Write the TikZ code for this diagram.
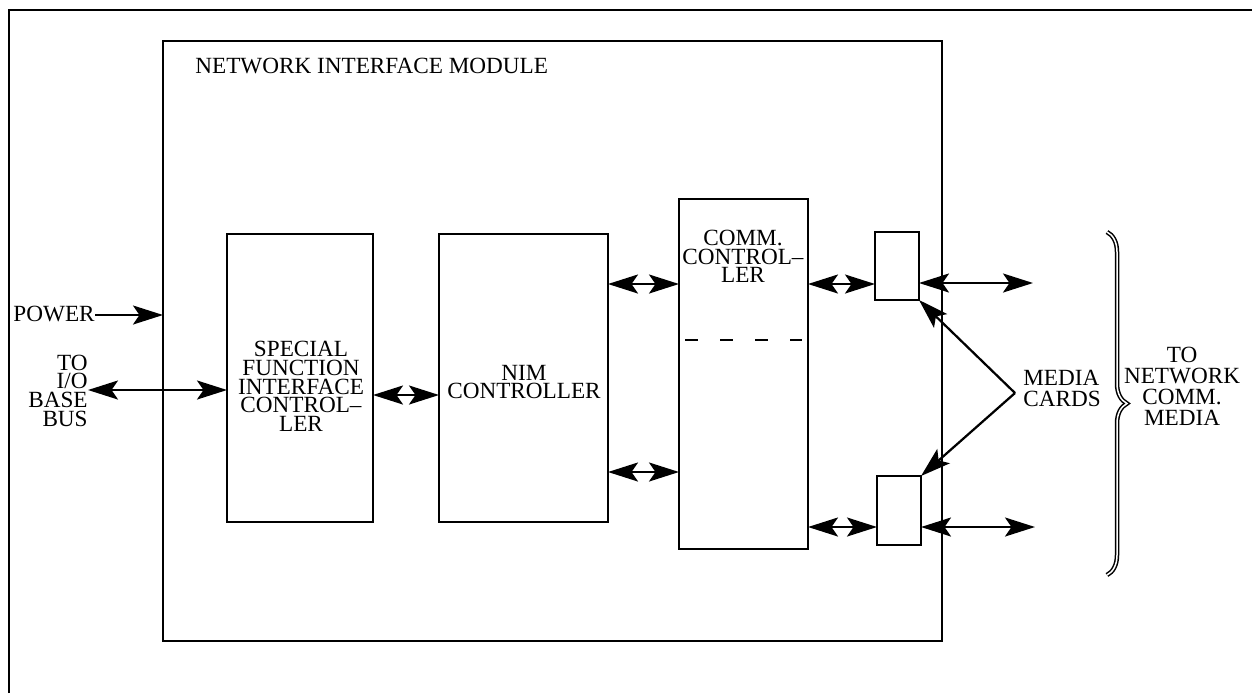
\documentclass[tikz,border=0pt]{standalone}
\usepackage{fontspec}
\setmainfont{Liberation Serif}
\usetikzlibrary{arrows.meta,decorations.pathreplacing}
\begin{document}
\begin{tikzpicture}[x=0.2mm,y=-0.2mm,
        >={Stealth[length=6mm,width=3.8mm,inset=1.3mm]},
        blk/.style={draw,line width=0.45mm,inner sep=0pt,outer sep=0pt},
        txt/.style={align=center,inner sep=0pt,font=\fontsize{13.2}{10.6}\selectfont},
        txtw/.style={txt,font=\fontsize{13.2}{12}\selectfont},
        arr/.style={line width=0.45mm,->},
        darr/.style={line width=0.45mm,<->}]
                \useasboundingbox (0,0) rectangle (1252,693);
                \draw[line width=0.45mm] (9,693) -- (9,10) -- (1252,10);

                \node[blk,minimum width=155.8mm,minimum height=120mm] (nim) at (552.5,341) {};
                \node[txt,anchor=west] (nimtitle) at (195,65.5) {NETWORK INTERFACE MODULE};

                \node[blk,minimum width=29.2mm,minimum height=57.6mm] (sfic) at (300,378) {};
                \node[blk,minimum width=33.8mm,minimum height=57.6mm] (nimc) at (523.5,378) {};
                \node[blk,minimum width=25.8mm,minimum height=70mm] (comm) at (743.5,374) {};
                \node[blk,minimum width=8.8mm,minimum height=13.6mm] (cardt) at (897,266) {};
                \node[blk,minimum width=8.8mm,minimum height=13.8mm] (cardb) at (899,510.5) {};

                \node[txt] (sficlbl) at (301,386.5) {SPECIAL\\FUNCTION\\INTERFACE\\CONTROL–\\LER};
                \node[txt] (nimclbl) at (524,382) {NIM\\CONTROLLER};
                \node[txt] (commlbl) at (743,256.5) {COMM.\\CONTROL–\\LER};
                \draw[line width=0.45mm,dash pattern=on 2.6mm off 4.4mm] (685,340) -- (802,340);

                \node[txt,anchor=east] (power) at (95,314) {POWER};
                \node[txt,anchor=east,align=right] (iobus) at (88,390.5) {TO\\I/O\\BASE\\BUS};
                \node[txtw,anchor=west,align=left] (media) at (1023,388) {MEDIA\\CARDS};
                \node[txtw] (netmedia) at (1182,386) {TO\\NETWORK\\COMM.\\MEDIA};

                \coordinate (ypw) at (0,315);
                \coordinate (yio) at (0,390);
                \coordinate (ysn) at (0,395);
                \coordinate (yup) at (0,284);
                \coordinate (ylo) at (0,472);
                \coordinate (ybt) at (0,527);
                \coordinate (endt) at (1033,283);
                \coordinate (endb) at (1035,527);
                \coordinate (mc) at ([xshift=-1.6mm,yshift=-1mm]media.west);

                \draw[arr] (power.east |- ypw) -- (nim.west |- ypw);
                \draw[darr] (iobus.east |- yio) -- (sfic.west |- yio);
                \draw[darr] (sfic.east |- ysn) -- (nimc.west |- ysn);
                \draw[darr] (nimc.east |- yup) -- (comm.west |- yup);
                \draw[darr] (nimc.east |- ylo) -- (comm.west |- ylo);
                \draw[darr] (comm.east |- yup) -- (cardt.west |- yup);
                \draw[darr] (comm.east |- ybt) -- (cardb.west |- ybt);
                \draw[darr] (cardt.east |- endt) -- (endt);
                \draw[darr] (cardb.east |- endb) -- (endb);

                \draw[arr] (mc) -- (cardt.south east);
                \draw[arr] (mc) -- (cardb.north east);

                \draw[line width=0.3mm,double,double distance=0.3mm,decorate,decoration={brace,amplitude=4mm}] (1107,232) -- (1107,575);
            \end{tikzpicture}
\end{document}
